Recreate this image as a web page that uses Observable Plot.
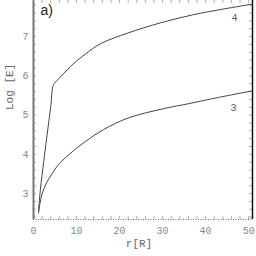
<!DOCTYPE html>
<html><head><meta charset="utf-8">
<script src="https://cdn.jsdelivr.net/npm/d3@7"></script>
<script src="https://cdn.jsdelivr.net/npm/@observablehq/plot@0.6"></script>
<style>body{margin:0;background:#fff}</style>
</head><body><div id="chart"></div>
<script>
// Curve "4" (upper)
const r4 =    [1.16, 1.6, 2.4, 3.4, 4.0, 4.65, 5.5, 6.3, 7.9, 9.4, 12.0, 15.6, 21.9, 29.5, 37.2, 44.0, 50.9];
const logE4 = [2.54, 3.1, 3.84, 4.7, 5.2, 5.78, 5.88, 5.98, 6.16, 6.32, 6.55, 6.82, 7.09, 7.35, 7.56, 7.70, 7.83];
// Curve "3" (lower)
const r3 =    [1.16, 1.5, 2.0, 3.0, 4.35, 5.8, 8.1, 12.1, 16.3, 22.1, 30.5, 36.0, 43.0, 50.9];
const logE3 = [2.5, 2.75, 2.99, 3.27, 3.51, 3.74, 3.98, 4.33, 4.63, 4.93, 5.17, 5.29, 5.45, 5.62];
const xTicks = [0, 10, 20, 30, 40, 50];
const yTicks = [3, 4, 5, 6, 7];
const xMinor = d3.range(0, 51, 2);
const yMinor = d3.range(2.4, 7.91, 0.2);
const curveNames = ["4", "3"];
const curveLabelR = [46.7, 46.5];
const curveLabelLog = [7.48, 5.19];
const panelLabel = "a)";
const xLabel = "r[R]";
const yLabel = "Log [E]";

const xDom = [0, 50.9], yDom = [2.34, 7.92];
const xTickLen = 3 / (219 / (xDom[1] - xDom[0]));
const yTickLen = 3 / (219 / (yDom[1] - yDom[0]));

const d4 = r4.map((r, i) => ({r, v: logE4[i]}));
const d3s = r3.map((r, i) => ({r, v: logE3[i]}));
const labs = curveNames.map((t, i) => ({t, r: curveLabelR[i], v: curveLabelLog[i]}));
const mono = "Liberation Mono, DejaVu Sans Mono, monospace";

const chart = Plot.plot({
  width: 256, height: 256,
  marginLeft: 33, marginRight: 4, marginTop: 0, marginBottom: 37,
  x: {domain: xDom},
  y: {domain: yDom},
  style: {fontFamily: mono, fontSize: "10px", color: "#777", background: "#fff"},
  marks: [
    Plot.ruleX(xMinor, {x: d => d, y1: yDom[0], y2: yDom[0] + yTickLen, stroke: "#999", strokeWidth: 0.8}),
    Plot.ruleX(xMinor, {x: d => d, y1: yDom[1], y2: yDom[1] - yTickLen, stroke: "#999", strokeWidth: 0.8}),
    Plot.ruleY(yMinor, {y: d => d, x1: xDom[0], x2: xDom[0] + xTickLen, stroke: "#999", strokeWidth: 0.8}),
    Plot.ruleY(yMinor, {y: d => d, x1: xDom[1], x2: xDom[1] - xTickLen, stroke: "#999", strokeWidth: 0.8}),
    Plot.ruleY([yDom[0]], {stroke: "#666", strokeDasharray: "1,1.5", strokeWidth: 1}),
    Plot.ruleX([xDom[0]], {stroke: "#777", strokeWidth: 2}),
    Plot.ruleX([xDom[1]], {stroke: "#111", strokeWidth: 1.5}),
    Plot.axisX(xTicks, {tickSize: 0, tickPadding: 7, label: null, fill: "#888", fontFamily: mono, fontSize: 10}),
    Plot.axisY(yTicks, {tickSize: 0, tickPadding: 5, label: null, fill: "#888", fontFamily: mono, fontSize: 10}),
    Plot.line(d4, {x: "r", y: "v", stroke: "#444", strokeWidth: 1, curve: "catmull-rom"}),
    Plot.line(d3s, {x: "r", y: "v", stroke: "#444", strokeWidth: 1, curve: "catmull-rom"}),
    Plot.text(labs, {x: "r", y: "v", text: "t", fill: "#555", fontFamily: mono, fontSize: 10}),
    Plot.text([panelLabel], {frameAnchor: "top-left", dx: 7, dy: 5, fill: "#222", fontFamily: "Liberation Sans, Arial, sans-serif", fontSize: 14, textAnchor: "start", lineAnchor: "top"}),
    Plot.text([xLabel], {frameAnchor: "bottom", dx: -4, dy: 27, fill: "#666", fontFamily: mono, fontSize: 11}),
    Plot.text([yLabel], {frameAnchor: "left", dx: -24, dy: 0, rotate: -90, fill: "#666", fontFamily: mono, fontSize: 11})
  ]
});
document.getElementById("chart").appendChild(chart);
</script>
</body></html>
